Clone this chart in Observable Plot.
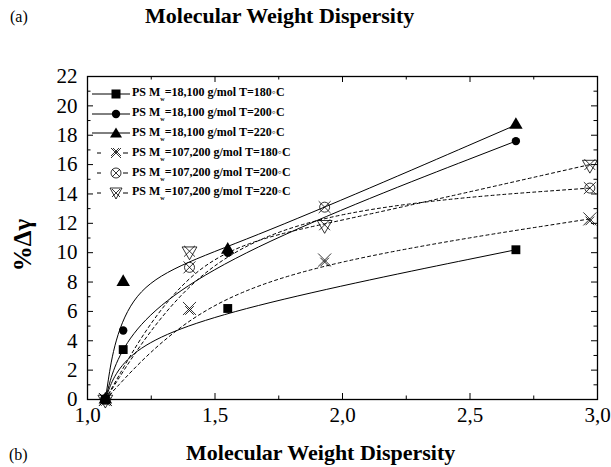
<!DOCTYPE html>
<html>
<head>
<meta charset="utf-8">
<script src="https://cdn.jsdelivr.net/npm/d3@7"></script>
<script src="https://cdn.jsdelivr.net/npm/@observablehq/plot@0.6"></script>
<style>
  body { margin: 0; background: #fff; }
  #wrap { position: relative; width: 611px; height: 467px; font-family: "Liberation Serif", "Times New Roman", Tinos, "DejaVu Serif", serif; color: #000; overflow: hidden; }
  .abs { position: absolute; white-space: nowrap; }
  #plot { position: absolute; left: 0; top: 40px; }
  .row { display: flex; align-items: center; height: 19.8px; font-weight: bold; font-size: 12px; }
  .row svg { display: block; }
  sub { font-size: 6px; vertical-align: -5px; }
</style>
</head>
<body>
<div id="wrap">
  <div class="abs" style="left:10px; top:8px; font-size:16px;">(a)</div>
  <div class="abs" style="left:145px; top:3px; font-size:22px; font-weight:bold;">Molecular Weight Dispersity</div>
  <div id="plot"></div>
  <div class="abs" id="ylab" style="left:23px; top:245px; font-size:25px; font-weight:bold; transform: translate(-50%,-50%) rotate(-90deg);">%Δγ</div>
  <div id="legend" class="abs" style="left:88px; top:84px;"></div>
  <div class="abs" style="left:9px; top:446px; font-size:16px;">(b)</div>
  <div class="abs" style="left:186px; top:440px; font-size:22px; font-weight:bold;">Molecular Weight Dispersity</div>
</div>
<script>
// ---- data ----
const seriesLabels = [
  "PS M|=18,100 g/mol T=180◦C",
  "PS M|=18,100 g/mol T=200◦C",
  "PS M|=18,100 g/mol T=220◦C",
  "PS M|=107,200 g/mol T=180◦C",
  "PS M|=107,200 g/mol T=200◦C",
  "PS M|=107,200 g/mol T=220◦C"
];
const dispersityLow  = [1.07, 1.14, 1.55, 2.68];   // Mw = 18,100
const dispersityHigh = [1.07, 1.40, 1.93, 2.97];   // Mw = 107,200
const gammaLow180  = [0, 3.4, 6.2, 10.2];
const gammaLow200  = [0, 4.7, 10.0, 17.6];
const gammaLow220  = [0, 8.0, 10.2, 18.7];
const gammaHigh180 = [0, 6.2, 9.5, 12.3];
const gammaHigh200 = [0, 9.0, 13.1, 14.4];
const gammaHigh220 = [0, 10.1, 11.9, 16.0];
const xTicks = [1.0, 1.5, 2.0, 2.5, 3.0];
const xMinor = [1.25, 1.75, 2.25, 2.75];
const yTicks = [0, 2, 4, 6, 8, 10, 12, 14, 16, 18, 20, 22];
const yMinor = [1, 3, 5, 7, 9, 11, 13, 15, 17, 19, 21];

const seriesX = [dispersityLow, dispersityLow, dispersityLow, dispersityHigh, dispersityHigh, dispersityHigh];
const seriesY = [gammaLow180, gammaLow200, gammaLow220, gammaHigh180, gammaHigh200, gammaHigh220];
const table = seriesY.flatMap((ys, s) => ys.map((g, i) => ({series: s, disp: seriesX[s][i], gamma: g})));
const solid = table.filter(d => d.series < 3);
const dashed = table.filter(d => d.series >= 3);

const W = 611, H = 400, mt = 36, mb = 41, ml = 87, mr = 14;
const fw = W - ml - mr, fh = H - mt - mb;
const major = 6, minor = 3.5;
const serif = "'Liberation Serif', 'Times New Roman', Tinos, 'DejaVu Serif', serif";

const markers = [
  Plot.dot(table.filter(d => d.series === 0), {x: "disp", y: "gamma", symbol: "square", r: 5, fill: "black"}),
  Plot.dot(table.filter(d => d.series === 1), {x: "disp", y: "gamma", symbol: "circle", r: 4.2, fill: "black"}),
  Plot.dot(table.filter(d => d.series === 2), {x: "disp", y: "gamma", symbol: "triangle", r: 5, fill: "black"}),
  Plot.dot(table.filter(d => d.series === 3), {x: "disp", y: "gamma", symbol: "times", r: 6, stroke: "black", strokeWidth: 0.8}),
  Plot.dot(table.filter(d => d.series === 3), {x: "disp", y: "gamma", symbol: "plus", r: 4, stroke: "black", strokeWidth: 0.8, rotate: 45, dy: 2}),
  Plot.dot(table.filter(d => d.series === 4), {x: "disp", y: "gamma", symbol: "circle", r: 5, stroke: "black", strokeWidth: 0.8}),
  Plot.dot(table.filter(d => d.series === 4), {x: "disp", y: "gamma", symbol: "times", r: 5.5, stroke: "black", strokeWidth: 0.8}),
  Plot.dot(table.filter(d => d.series === 5), {x: "disp", y: "gamma", symbol: "triangle", r: 5.5, rotate: 180, stroke: "black", strokeWidth: 0.8}),
  Plot.dot(table.filter(d => d.series === 5), {x: "disp", y: "gamma", symbol: "times", r: 5, stroke: "black", strokeWidth: 0.8})
];

const chart = Plot.plot({
  width: W, height: H,
  marginTop: mt, marginBottom: mb, marginLeft: ml, marginRight: mr,
  style: {fontFamily: serif, fontSize: "21px", color: "black", background: "white"},
  x: {domain: [1.0, 3.0]},
  y: {domain: [0, 22]},
  marks: [
    Plot.axisX({ticks: xTicks, tickSize: 0, tickPadding: 8, label: null, fontFamily: serif, fontSize: 21, tickFormat: d => d.toFixed(1).replace(".", ",")}),
    Plot.axisY({ticks: yTicks, tickSize: 0, tickPadding: 10, label: null, fontFamily: serif, fontSize: 21, tickFormat: d => String(d)}),
    // inward ticks
    Plot.tickX(xTicks, {x: d => d, insetTop: fh - major, stroke: "black"}),
    Plot.tickX(xTicks, {x: d => d, insetBottom: fh - major, stroke: "black"}),
    Plot.tickX(xMinor, {x: d => d, insetTop: fh - minor, stroke: "black"}),
    Plot.tickX(xMinor, {x: d => d, insetBottom: fh - minor, stroke: "black"}),
    Plot.tickY(yTicks, {y: d => d, insetRight: fw - major, stroke: "black"}),
    Plot.tickY(yTicks, {y: d => d, insetLeft: fw - major, stroke: "black"}),
    Plot.tickY(yMinor, {y: d => d, insetRight: fw - minor, stroke: "black"}),
    Plot.tickY(yMinor, {y: d => d, insetLeft: fw - minor, stroke: "black"}),
    Plot.line(solid, {x: "disp", y: "gamma", z: "series", curve: "basis", stroke: "black", strokeWidth: 1}),
    Plot.line(dashed, {x: "disp", y: "gamma", z: "series", curve: "basis", stroke: "black", strokeWidth: 1, strokeDasharray: "3,3"}),
    ...markers,
    Plot.frame({stroke: "black", strokeWidth: 1.3})
  ]
});
document.getElementById("plot").appendChild(chart);

// ---- legend ----
const ns = "http://www.w3.org/2000/svg";
function legendSample(s) {
  const svg = document.createElementNS(ns, "svg");
  svg.setAttribute("width", 44); svg.setAttribute("height", 14);
  const cx = 28, cy = 7;
  let html = "";
  if (s < 3) {
    html += `<line x1="4" y1="${cy}" x2="42" y2="${cy}" stroke="black" stroke-width="1"/>`;
  } else {
    html += `<line x1="9" y1="${cy}" x2="13" y2="${cy}" stroke="black" stroke-width="1"/>`;
    html += `<line x1="35" y1="${cy}" x2="40" y2="${cy}" stroke="black" stroke-width="1"/>`;
  }
  if (s === 0) html += `<rect x="${cx-4.5}" y="${cy-4.5}" width="9" height="9" fill="black"/>`;
  if (s === 1) html += `<circle cx="${cx}" cy="${cy}" r="4.2" fill="black"/>`;
  if (s === 2) html += `<path d="M${cx},${cy-5.5}L${cx+6},${cy+4.5}L${cx-6},${cy+4.5}Z" fill="black"/>`;
  const st = `stroke="black" stroke-width="0.8" fill="none"`;
  if (s === 3) html += `<path d="M${cx-5},${cy-5}L${cx+5},${cy+5}M${cx+5},${cy-5}L${cx-5},${cy+5}M${cx-3},${cy-5}L${cx+5},${cy+3}M${cx+3},${cy-5}L${cx-5},${cy+3}" ${st}/>`;
  if (s === 4) html += `<circle cx="${cx}" cy="${cy}" r="5" ${st}/><path d="M${cx-4},${cy-4}L${cx+4},${cy+4}M${cx+4},${cy-4}L${cx-4},${cy+4}" ${st}/>`;
  if (s === 5) html += `<path d="M${cx-6},${cy-5}L${cx+6},${cy-5}L${cx},${cy+6}Z" ${st}/><path d="M${cx-4},${cy-4}L${cx+4},${cy+4}M${cx+4},${cy-4}L${cx-4},${cy+4}" ${st}/>`;
  svg.innerHTML = html;
  return svg;
}
const legend = document.getElementById("legend");
seriesLabels.forEach((lab, s) => {
  const row = document.createElement("div");
  row.className = "row";
  row.appendChild(legendSample(s));
  const [a, b] = lab.split("|");
  const span = document.createElement("span");
  span.innerHTML = `${a}<sub>w</sub>${b}`;
  row.appendChild(span);
  legend.appendChild(row);
});
</script>
</body>
</html>
